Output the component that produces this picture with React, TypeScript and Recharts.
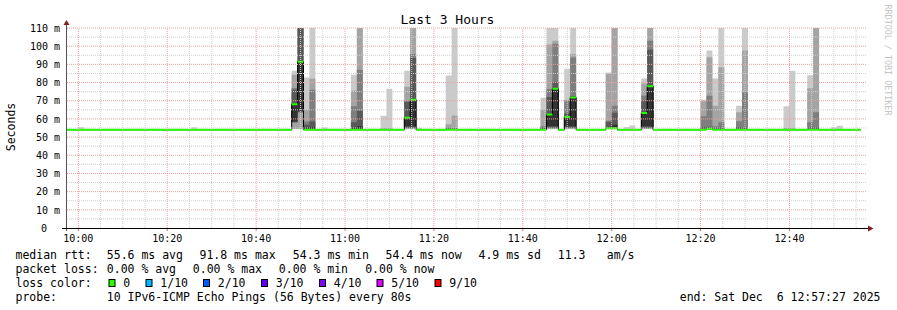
import React from "react";
import { ComposedChart, Area, XAxis, YAxis, ReferenceLine } from "recharts";

const FONT = "'DejaVu Sans Mono', monospace";

// 80 s steps; only the steps where the values change are listed (step-after drawing)
const stepStart = [
  "09:57:20", "10:00:00", "10:01:20", "10:25:20", "10:26:40",
  "10:48:00", "10:49:20", "10:50:40", "10:52:00", "10:53:20", "10:54:40", "10:56:00",
  "11:01:20", "11:02:40", "11:04:00",
  "11:08:00", "11:09:20", "11:10:40",
  "11:13:20", "11:14:40", "11:16:00", "11:17:20",
  "11:22:40", "11:24:00", "11:25:20",
  "11:44:00", "11:45:20", "11:46:40", "11:48:00", "11:49:20", "11:50:40", "11:52:00",
  "11:58:40", "12:00:00", "12:01:20", "12:02:40", "12:04:00", "12:05:20", "12:06:40", "12:08:00", "12:09:20",
  "12:20:00", "12:21:20", "12:22:40", "12:24:00", "12:25:20",
  "12:28:00", "12:29:20", "12:30:40",
  "12:38:40", "12:40:00", "12:41:20",
  "12:44:00", "12:45:20", "12:46:40",
  "12:49:20", "12:50:40", "12:52:00",
  "12:56:00",
];

const medianRtt = [
  54.4, 54.4, 54.4, 54.4, 54.4,
  68.4, 91.8, 54.5, 54.5, 54.4, 54.4, 54.4,
  54.5, 54.5, 54.4,
  54.4, 54.4, 54.4,
  61.0, 70.9, 54.4, 54.4,
  54.5, 54.5, 54.4,
  54.5, 62.8, 77.0, 54.4, 61.5, 72.2, 54.4,
  55.2, 55.2, 54.4, 54.4, 54.4, 54.4, 63.6, 78.3, 54.4,
  54.5, 55.0, 54.5, 54.5, 54.4,
  54.5, 54.5, 54.4,
  54.4, 54.4, 54.4,
  54.5, 54.5, 54.4,
  54.4, 54.4, 54.4,
  54.4,
];

// the 10 sorted pings of each step (ms)
const pings: number[][] = [
  [54.2, 54.2, 54.3, 54.3, 54.3, 54.4, 54.4, 54.4, 54.5, 54.5],
  [54.2, 54.2, 54.3, 54.3, 54.3, 54.4, 54.4, 54.4, 54.5, 55.4],
  [54.2, 54.2, 54.3, 54.3, 54.3, 54.4, 54.4, 54.4, 54.5, 54.5],
  [54.2, 54.2, 54.3, 54.3, 54.3, 54.4, 54.4, 54.4, 54.5, 55.4],
  [54.2, 54.2, 54.3, 54.3, 54.3, 54.4, 54.4, 54.4, 54.5, 54.5],
  [54.3, 54.5, 58.0, 58.2, 58.6, 68.4, 76.0, 77.0, 84.3, 86.5],
  [54.3, 54.5, 63.5, 64.0, 64.2, 91.8, 116, 118, 120, 122],
  [54.2, 54.3, 54.3, 54.4, 54.4, 55.2, 56.8, 58.6, 65.1, 82.8],
  [54.2, 54.3, 54.3, 54.4, 54.4, 55.5, 58.6, 76.1, 82.1, 118],
  [54.2, 54.2, 54.3, 54.3, 54.3, 54.4, 54.4, 54.4, 54.5, 54.5],
  [54.2, 54.2, 54.3, 54.3, 54.3, 54.4, 54.4, 54.4, 54.5, 55.3],
  [54.2, 54.2, 54.3, 54.3, 54.3, 54.4, 54.4, 54.4, 54.5, 54.5],
  [54.2, 54.3, 54.3, 54.4, 54.4, 55.0, 58.1, 66.9, 75.5, 84.3],
  [54.2, 54.3, 54.3, 54.4, 54.4, 56.0, 64.5, 87.0, 115, 118],
  [54.2, 54.2, 54.3, 54.3, 54.3, 54.4, 54.4, 54.4, 54.5, 54.5],
  [54.2, 54.2, 54.3, 54.3, 54.3, 54.4, 54.4, 54.5, 55.0, 61.8],
  [54.2, 54.2, 54.3, 54.3, 54.3, 54.4, 54.4, 54.5, 55.0, 76.6],
  [54.2, 54.2, 54.3, 54.3, 54.3, 54.4, 54.4, 54.4, 54.5, 54.5],
  [54.3, 54.5, 54.8, 55.2, 56.0, 61.0, 69.5, 70.0, 77.7, 86.5],
  [54.3, 54.5, 54.8, 55.2, 56.0, 70.9, 93.5, 95.7, 115, 120],
  [54.2, 54.2, 54.3, 54.3, 54.3, 54.4, 54.4, 54.4, 54.5, 55.2],
  [54.2, 54.2, 54.3, 54.3, 54.3, 54.4, 54.4, 54.4, 54.5, 54.5],
  [54.2, 54.3, 54.3, 54.4, 54.4, 54.5, 54.8, 55.3, 57.0, 83.9],
  [54.2, 54.3, 54.3, 54.4, 54.4, 54.5, 54.7, 55.0, 61.9, 118],
  [54.2, 54.2, 54.3, 54.3, 54.3, 54.4, 54.4, 54.4, 54.5, 54.5],
  [54.2, 54.3, 54.3, 54.4, 54.4, 54.6, 55.3, 56.0, 65.1, 71.6],
  [54.3, 54.5, 54.8, 55.2, 56.0, 62.8, 72.0, 76.5, 100.9, 118],
  [54.3, 54.5, 54.8, 55.2, 56.0, 77.0, 80.3, 101.3, 103.0, 118],
  [54.2, 54.2, 54.3, 54.3, 54.3, 54.4, 54.4, 54.4, 54.5, 54.5],
  [54.3, 54.5, 54.8, 55.2, 56.0, 61.5, 63.0, 70.0, 70.5, 87.6],
  [54.3, 54.5, 54.8, 55.2, 56.0, 72.2, 72.6, 93.8, 95.7, 118],
  [54.2, 54.2, 54.3, 54.3, 54.3, 54.4, 54.4, 54.4, 54.5, 54.5],
  [54.3, 54.4, 54.5, 54.7, 55.0, 55.5, 58.5, 59.0, 84.8, 85.5],
  [54.3, 54.4, 54.5, 54.7, 55.0, 56.8, 63.4, 67.3, 115, 118],
  [54.2, 54.2, 54.3, 54.3, 54.3, 54.4, 54.4, 54.4, 54.5, 54.5],
  [54.2, 54.2, 54.3, 54.3, 54.3, 54.4, 54.4, 54.4, 54.5, 55.6],
  [54.2, 54.2, 54.3, 54.3, 54.3, 54.4, 54.4, 54.4, 54.5, 56.4],
  [54.2, 54.2, 54.3, 54.3, 54.3, 54.4, 54.4, 54.4, 54.5, 54.5],
  [54.3, 54.5, 54.8, 55.2, 56.0, 63.6, 70.0, 72.8, 79.5, 82.2],
  [54.3, 54.5, 54.8, 55.2, 56.0, 78.3, 98.0, 103.0, 115, 118],
  [54.2, 54.2, 54.3, 54.3, 54.3, 54.4, 54.4, 54.4, 54.5, 54.5],
  [54.2, 54.3, 54.3, 54.4, 54.4, 54.6, 55.5, 61.5, 69.7, 70.6],
  [54.2, 54.3, 54.4, 54.5, 54.7, 55.0, 55.7, 72.8, 93.9, 97.6],
  [54.2, 54.3, 54.3, 54.4, 54.4, 54.5, 54.8, 56.0, 67.3, 82.2],
  [54.2, 54.3, 54.3, 54.4, 54.4, 54.6, 55.3, 58.1, 88.4, 118],
  [54.2, 54.2, 54.3, 54.3, 54.3, 54.4, 54.4, 54.4, 54.5, 54.5],
  [54.2, 54.3, 54.3, 54.4, 54.4, 54.6, 55.5, 58.7, 63.6, 67.3],
  [54.2, 54.3, 54.3, 54.4, 54.4, 54.6, 55.3, 74.6, 97.6, 118],
  [54.2, 54.2, 54.3, 54.3, 54.3, 54.4, 54.4, 54.4, 54.5, 54.5],
  [54.2, 54.2, 54.3, 54.3, 54.3, 54.4, 54.4, 54.5, 55.0, 66.9],
  [54.2, 54.2, 54.3, 54.3, 54.3, 54.4, 54.4, 54.5, 55.0, 86.5],
  [54.2, 54.2, 54.3, 54.3, 54.3, 54.4, 54.4, 54.4, 54.5, 54.5],
  [54.2, 54.3, 54.3, 54.4, 54.4, 54.6, 55.3, 58.1, 76.8, 84.0],
  [54.2, 54.3, 54.3, 54.4, 54.4, 54.6, 55.3, 63.6, 115, 118],
  [54.2, 54.2, 54.3, 54.3, 54.3, 54.4, 54.4, 54.4, 54.5, 54.5],
  [54.2, 54.2, 54.3, 54.3, 54.3, 54.4, 54.4, 54.4, 54.5, 55.4],
  [54.2, 54.2, 54.3, 54.3, 54.3, 54.4, 54.4, 54.4, 54.5, 56.3],
  [54.2, 54.2, 54.3, 54.3, 54.3, 54.4, 54.4, 54.4, 54.5, 54.5],
  [54.2, 54.2, 54.3, 54.3, 54.3, 54.4, 54.4, 54.4, 54.5, 54.5],
];

const graphStart = "09:57:27";
const graphEnd = "12:57:27";
const majorTimes = ["10:00", "10:20", "10:40", "11:00", "11:20", "11:40", "12:00", "12:20", "12:40"];
const minorTimes = [
  "10:05", "10:10", "10:15", "10:25", "10:30", "10:35", "10:45", "10:50", "10:55",
  "11:05", "11:10", "11:15", "11:25", "11:30", "11:35", "11:45", "11:50", "11:55",
  "12:05", "12:10", "12:15", "12:25", "12:30", "12:35", "12:45", "12:50", "12:55",
];
const majorY = [10, 20, 30, 40, 50, 60, 70, 80, 90, 100, 110];
const minorY = [5, 15, 25, 35, 45, 55, 65, 75, 85, 95, 105];
const yTicks = [0, 10, 20, 30, 40, 50, 60, 70, 80, 90, 100, 110];

const smokeColors = ["#cacaca", "#a4a4a4", "#7e7e7e", "#585858", "#323232"];
const lossLabels = ["0", "1/10", "2/10", "3/10", "4/10", "5/10", "9/10"];
const lossColors = ["#26ff00", "#00b8ff", "#0059ff", "#5e00ff", "#7e00ff", "#dd00ff", "#ff0000"];
const lossX = [109, 146, 203.5, 261.5, 319.5, 377, 435];

function toMin(s: string) {
  const [h, m, sec] = s.split(":").map(Number);
  return (h - 10) * 60 + m + (sec || 0) / 60;
}

const rows = stepStart.map((s, i) => ({ t: toMin(s), median: medianRtt[i], p: pings[i] }));

function YTick(props: any) {
  const { y, payload } = props;
  const v = payload.value;
  return (
    <text x={v === 0 ? 47 : 60} y={y + 3.7} textAnchor="end" fontFamily={FONT} fontSize={10} fill="#000">
      {v === 0 ? "0" : `${v} m`}
    </text>
  );
}

function XTick(props: any) {
  const { x, payload } = props;
  const idx = majorTimes.findIndex((t) => Math.abs(toMin(t) - payload.value) < 0.01);
  return (
    <text x={x} y={241.5} textAnchor="middle" fontFamily={FONT} fontSize={10} fill="#000">
      {majorTimes[idx]}
    </text>
  );
}

export default function App() {
  const txt = { fontFamily: FONT, fontSize: 11.5, fill: "#000", style: { whiteSpace: "pre" as const } };
  return (
    <div style={{ position: "absolute", left: 0, top: 0, width: 897, height: 310, background: "#fff" }}>
      <ComposedChart width={897} height={250} data={rows} margin={{ top: 28, right: 30, left: 0, bottom: 0 }}>
        <XAxis
          type="number"
          dataKey="t"
          domain={[toMin(graphStart), toMin(graphEnd)]}
          allowDataOverflow
          ticks={majorTimes.map(toMin)}
          tick={<XTick />}
          axisLine={false}
          tickLine={{ stroke: "#e07070" }}
          tickSize={3}
          height={22}
          interval={0}
        />
        <YAxis
          type="number"
          domain={[0, 110]}
          allowDataOverflow
          ticks={yTicks}
          tick={<YTick />}
          axisLine={false}
          tickLine={false}
          width={67}
          interval={0}
        />
        {smokeColors.map((c, k) => (
          <Area
            key={k}
            type="stepAfter"
            dataKey={(d: any) => [d.p[k], d.p[9 - k]]}
            fill={c}
            fillOpacity={1}
            stroke="none"
            dot={false}
            activeDot={false}
            isAnimationActive={false}
          />
        ))}
        {/* median step outline */}
        <Area
          type="stepAfter"
          dataKey={(d: any) => d.median - 0.4}
          fill="none"
          stroke="#000"
          strokeWidth={1}
          dot={false}
          activeDot={false}
          isAnimationActive={false}
        />
        <Area
          type="stepAfter"
          dataKey={(d: any) => [d.median - 0.95, d.median + 0.15]}
          fill="#26ff00"
          fillOpacity={1}
          stroke="none"
          dot={false}
          activeDot={false}
          isAnimationActive={false}
        />
        {minorY.map((v) => (
          <ReferenceLine key={"my" + v} y={v} stroke="#cfcfcf" strokeDasharray="1 1" />
        ))}
        {minorTimes.map((t) => (
          <ReferenceLine key={"mx" + t} x={toMin(t)} stroke="#cfcfcf" strokeDasharray="1 1" />
        ))}
        {majorY.map((v) => (
          <ReferenceLine key={"My" + v} y={v} stroke="#efa0a0" strokeDasharray="1 1" />
        ))}
        {majorTimes.map((t) => (
          <ReferenceLine key={"Mx" + t} x={toMin(t)} stroke="#efa0a0" strokeDasharray="1 1" />
        ))}
      </ComposedChart>
      <svg width={897} height={310} style={{ position: "absolute", left: 0, top: 0, pointerEvents: "none" }}>
        <text x={447.5} y={23.5} textAnchor="middle" fontFamily={FONT} fontSize={13} fill="#000">
          Last 3 Hours
        </text>
        <text transform="translate(15,127) rotate(-90)" textAnchor="middle" fontFamily={FONT} fontSize={11.5} fill="#000">
          Seconds
        </text>
        <text transform="translate(885,60) rotate(90)" textAnchor="middle" fontFamily={FONT} fontSize={8.4} fill="#c4c4c4">
          RRDTOOL / TOBI OETIKER
        </text>
        <line x1={66.5} y1={231} x2={66.5} y2={24} stroke="#555" strokeWidth={1} />
        <polygon points="63.5,25 66.5,20 69.5,25" fill="#7f1f1f" />
        <line x1={62} y1={228.5} x2={869} y2={228.5} stroke="#000" strokeWidth={1} />
        <polygon points="868,225.5 873.5,228.5 868,231.5" fill="#7f1f1f" />

        <text {...txt} x={15.5} y={258.5}>median rtt:</text>
        <text {...txt} x={106.8} y={258.5}>55.6 ms avg</text>
        <text {...txt} x={199.5} y={258.5}>91.8 ms max</text>
        <text {...txt} x={292.8} y={258.5}>54.3 ms min</text>
        <text {...txt} x={385.5} y={258.5}>54.4 ms now</text>
        <text {...txt} x={478.5} y={258.5}>4.9 ms sd</text>
        <text {...txt} x={557.8} y={258.5}>11.3</text>
        <text {...txt} x={606.8} y={258.5}>am/s</text>

        <text {...txt} x={15.5} y={272.5}>packet loss:</text>
        <text {...txt} x={106.8} y={272.5}>0.00 % avg</text>
        <text {...txt} x={192.8} y={272.5}>0.00 % max</text>
        <text {...txt} x={278.8} y={272.5}>0.00 % min</text>
        <text {...txt} x={365.2} y={272.5}>0.00 % now</text>

        <text {...txt} x={15.5} y={286.5}>loss color:</text>
        {lossLabels.map((l, i) => (
          <g key={l}>
            <rect x={lossX[i]} y={279.5} width={6} height={7} fill={lossColors[i]} stroke="#000" strokeWidth={1} />
            <text {...txt} x={lossX[i] + 14.3} y={286.5}>{l}</text>
          </g>
        ))}

        <text {...txt} x={15.5} y={300.5}>probe:</text>
        <text {...txt} x={106.8} y={300.5}>10 IPv6-ICMP Echo Pings (56 Bytes) every 80s</text>
        <text {...txt} x={880.5} y={300.5} textAnchor="end">end: Sat Dec  6 12:57:27 2025</text>
      </svg>
    </div>
  );
}
